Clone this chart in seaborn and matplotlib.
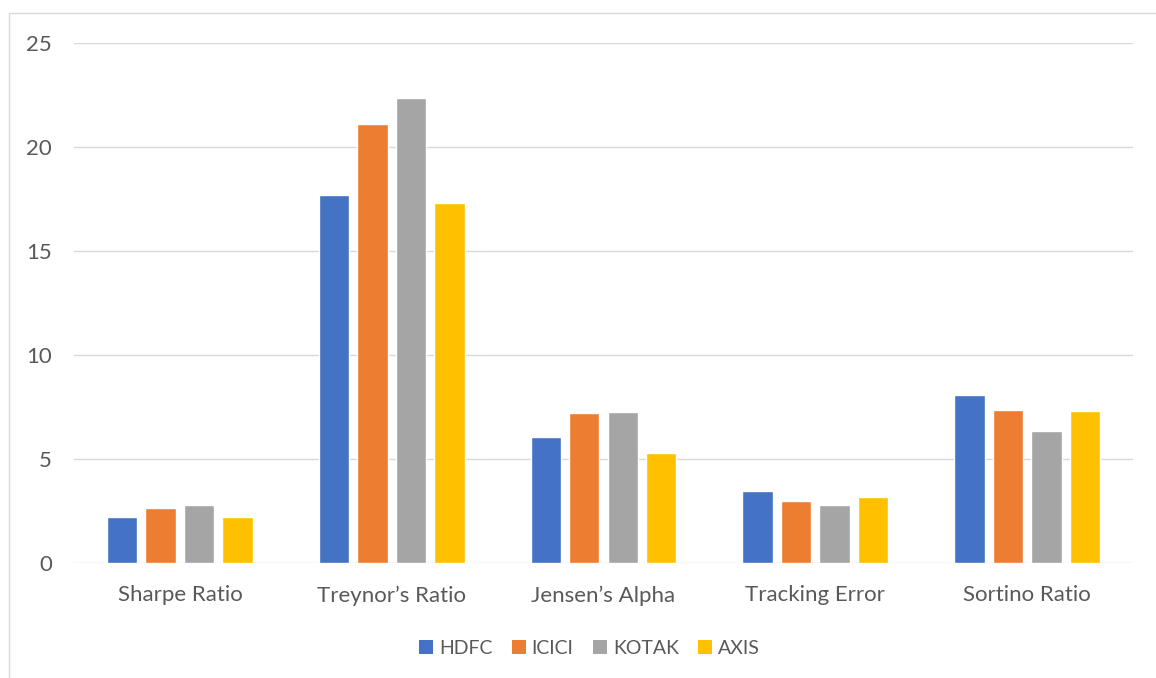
import matplotlib
matplotlib.use("Agg")
import matplotlib.pyplot as plt
import seaborn as sns
import pandas as pd
from matplotlib.patches import Rectangle, Patch

categories = ["Sharpe Ratio", "Treynor\u2019s Ratio", "Jensen\u2019s Alpha", "Tracking Error", "Sortino Ratio"]
banks = ["HDFC", "ICICI", "KOTAK", "AXIS"]
hdfc = [2.23, 17.71, 6.06, 3.48, 8.06]
icici = [2.64, 21.09, 7.20, 2.98, 7.36]
kotak = [2.81, 22.37, 7.26, 2.77, 6.37]
axis_ = [2.20, 17.29, 5.27, 3.16, 7.29]
colors = ["#4472C4", "#ED7D31", "#A5A5A5", "#FFC000"]
yticks = [0, 5, 10, 15, 20, 25]

rows = []
for bank, vals in zip(banks, [hdfc, icici, kotak, axis_]):
    for c, v in zip(categories, vals):
        rows.append({"Metric": c, "Bank": bank, "Value": v})
df = pd.DataFrame(rows)

sns.set_theme(style="white")
plt.rcParams["font.family"] = ["Lato", "DejaVu Sans"]

fig = plt.figure(figsize=(11.56, 6.78), dpi=100)
ax = fig.add_axes([74/1156, 1-563/678, (1133-74)/1156, (563-43)/678])

sns.barplot(data=df, x="Metric", y="Value", hue="Bank", order=categories,
            hue_order=banks, palette=colors, width=0.726, gap=0.21,
            ax=ax, legend=False, saturation=1)

ax.set_ylim(0, 25)
ax.set_xlim(-0.5, 4.5)
ax.set_yticks(yticks)
ax.set_xlabel("")
ax.set_ylabel("")
for s in ax.spines.values():
    s.set_visible(False)
ax.grid(axis="y", color="#D9D9D9", linewidth=1.0)
ax.grid(axis="x", visible=False)
ax.set_axisbelow(True)
ax.tick_params(axis="y", length=0, pad=16, labelsize=16, labelcolor="#595959")
ax.tick_params(axis="x", length=0, pad=16, labelsize=16, labelcolor="#595959")

handles = [Patch(facecolor=c, edgecolor="none") for c in colors]
fig.legend(handles, banks, loc="center", bbox_to_anchor=(0.51, 0.044), ncol=4,
           frameon=False, fontsize=14, handlelength=0.72, handleheight=0.72,
           handletextpad=0.3, columnspacing=1.0, labelcolor="#595959")

fig.patches.append(Rectangle((9/1156, -0.05), 1.2, 0.05 + (1-13/678), transform=fig.transFigure,
                             fill=False, edgecolor="#D9D9D9", linewidth=1.0))

fig.savefig("out.png", dpi=100)
